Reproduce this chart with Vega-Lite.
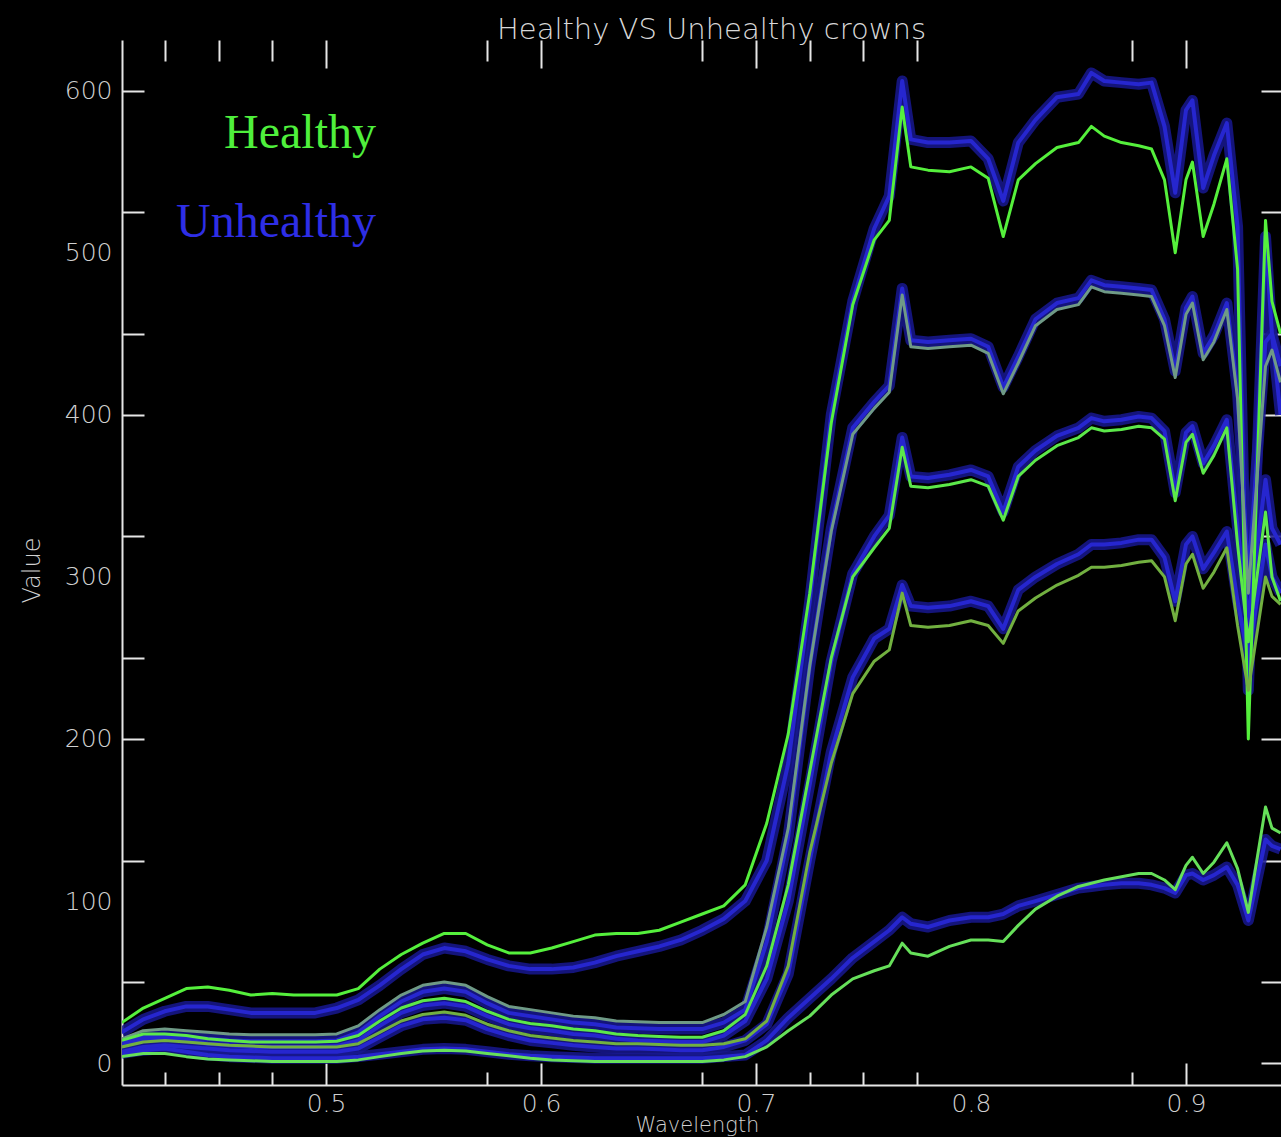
{
  "$schema": "https://vega.github.io/schema/vega-lite/v6.json",
  "autosize": {"type": "none"},
  "padding": {"left": 122, "top": 40, "right": 0, "bottom": 52},
  "width": 1159,
  "height": 1045,
  "background": "black",
  "title": {"text": "Healthy VS Unhealthy crowns", "font": "DejaVu Sans", "fontSize": 29, "fontWeight": 200, "color": "#d8d8d8", "anchor": "middle", "dx": 10, "offset": -6},
  "config": {"view": {"stroke": null}, "axis": {"grid": false}},
  "datasets": {
    "groups": [
      {"series": "H1", "group": "Healthy"}, {"series": "H2", "group": "Healthy"}, {"series": "H3", "group": "Healthy"}, {"series": "H4", "group": "Healthy"}, {"series": "H5", "group": "Healthy"},
      {"series": "U1", "group": "Unhealthy"}, {"series": "U2", "group": "Unhealthy"}, {"series": "U3", "group": "Unhealthy"}, {"series": "U4", "group": "Unhealthy"}, {"series": "U5", "group": "Unhealthy"}
    ],
    "spectra": [
      {"w":0.405,"H1":25,"H2":15,"H3":14,"H4":10,"H5":4,"U1":19,"U2":12,"U3":11,"U4":7,"U5":6},
      {"w":0.415,"H1":34,"H2":20,"H3":18,"H4":13,"H5":6,"U1":27,"U2":16,"U3":15,"U4":10,"U5":8},
      {"w":0.425,"H1":40,"H2":21,"H3":18,"H4":14,"H5":6,"U1":32,"U2":17,"U3":15,"U4":11,"U5":9},
      {"w":0.435,"H1":46,"H2":20,"H3":17,"H4":13,"H5":4,"U1":35,"U2":16,"U3":14,"U4":10,"U5":7},
      {"w":0.445,"H1":47,"H2":19,"H3":15,"H4":12,"H5":2.5,"U1":35,"U2":15,"U3":12,"U4":9,"U5":5},
      {"w":0.455,"H1":45,"H2":18,"H3":14,"H4":11,"H5":2,"U1":33,"U2":14,"U3":11,"U4":8,"U5":4},
      {"w":0.465,"H1":42,"H2":17.5,"H3":13,"H4":10.5,"H5":1.5,"U1":31,"U2":13.5,"U3":10,"U4":7.5,"U5":3.5},
      {"w":0.475,"H1":43,"H2":17.5,"H3":13,"H4":10,"H5":1,"U1":31,"U2":13.5,"U3":10,"U4":7,"U5":3},
      {"w":0.485,"H1":42,"H2":17.5,"H3":13,"H4":10,"H5":1,"U1":31,"U2":13.5,"U3":10,"U4":7,"U5":3},
      {"w":0.495,"H1":42,"H2":17.5,"H3":13,"H4":10,"H5":1,"U1":31,"U2":13.5,"U3":10,"U4":7,"U5":3},
      {"w":0.505,"H1":42,"H2":18,"H3":13.5,"H4":10,"H5":1,"U1":34,"U2":14,"U3":10.5,"U4":7,"U5":3},
      {"w":0.515,"H1":46,"H2":23,"H3":17,"H4":12,"H5":2,"U1":39,"U2":19,"U3":14,"U4":9,"U5":4},
      {"w":0.525,"H1":58,"H2":33,"H3":26,"H4":19,"H5":4,"U1":48,"U2":29,"U3":23,"U4":16,"U5":5.5},
      {"w":0.535,"H1":67,"H2":42,"H3":34,"H4":26,"H5":6,"U1":58,"U2":38,"U3":31,"U4":23,"U5":7},
      {"w":0.545,"H1":74,"H2":48,"H3":38.5,"H4":30,"H5":7.5,"U1":67,"U2":44,"U3":35.5,"U4":27,"U5":8.5},
      {"w":0.555,"H1":80,"H2":50,"H3":40,"H4":31.5,"H5":8,"U1":71,"U2":46,"U3":37,"U4":28,"U5":9},
      {"w":0.565,"H1":80,"H2":48,"H3":38,"H4":29.5,"H5":7.5,"U1":69,"U2":44,"U3":35,"U4":26.5,"U5":8.5},
      {"w":0.575,"H1":73,"H2":41,"H3":32,"H4":24,"H5":6,"U1":64,"U2":37,"U3":29,"U4":21,"U5":7},
      {"w":0.585,"H1":68,"H2":35,"H3":27,"H4":20,"H5":4.5,"U1":60,"U2":31,"U3":24,"U4":17,"U5":5.5},
      {"w":0.595,"H1":68,"H2":33,"H3":24.5,"H4":17,"H5":3,"U1":58,"U2":29,"U3":21.5,"U4":14,"U5":4.5},
      {"w":0.605,"H1":71,"H2":31,"H3":23,"H4":15.5,"H5":2,"U1":58,"U2":27,"U3":20,"U4":12.5,"U5":4},
      {"w":0.615,"H1":75,"H2":29,"H3":21,"H4":14,"H5":1.5,"U1":59,"U2":25,"U3":18,"U4":11,"U5":3.5},
      {"w":0.625,"H1":79,"H2":28,"H3":20,"H4":13,"H5":1,"U1":62,"U2":24,"U3":17,"U4":10,"U5":3},
      {"w":0.635,"H1":80,"H2":26,"H3":18,"H4":12,"H5":1,"U1":66,"U2":22,"U3":15,"U4":9,"U5":3},
      {"w":0.645,"H1":80,"H2":25.5,"H3":17,"H4":12,"H5":1,"U1":69,"U2":21.5,"U3":14,"U4":9,"U5":3},
      {"w":0.655,"H1":82,"H2":25,"H3":16.5,"H4":11.5,"H5":1,"U1":72,"U2":21,"U3":13.5,"U4":8.5,"U5":3},
      {"w":0.665,"H1":87,"H2":25,"H3":16,"H4":11,"H5":1,"U1":76,"U2":21,"U3":13,"U4":8,"U5":3},
      {"w":0.675,"H1":92,"H2":25,"H3":16,"H4":11,"H5":1,"U1":82,"U2":21,"U3":13,"U4":8,"U5":3},
      {"w":0.685,"H1":97,"H2":30,"H3":20,"H4":12,"H5":2,"U1":89,"U2":25,"U3":17,"U4":10,"U5":4},
      {"w":0.695,"H1":110,"H2":38,"H3":30,"H4":15,"H5":4,"U1":100,"U2":33,"U3":26,"U4":14,"U5":5},
      {"w":0.705,"H1":148,"H2":84,"H3":60,"H4":26,"H5":10,"U1":125,"U2":75,"U3":52,"U4":24,"U5":14},
      {"w":0.715,"H1":203,"H2":145,"H3":110,"H4":60,"H5":20,"U1":185,"U2":140,"U3":100,"U4":55,"U5":28},
      {"w":0.725,"H1":290,"H2":245,"H3":180,"H4":130,"H5":29,"U1":285,"U2":245,"U3":172,"U4":125,"U5":40},
      {"w":0.735,"H1":395,"H2":328,"H3":250,"H4":185,"H5":42,"U1":400,"U2":330,"U3":248,"U4":192,"U5":52},
      {"w":0.745,"H1":468,"H2":388,"H3":300,"H4":228,"H5":52,"U1":470,"U2":392,"U3":302,"U4":238,"U5":65},
      {"w":0.755,"H1":508,"H2":404,"H3":318,"H4":248,"H5":57,"U1":515,"U2":408,"U3":325,"U4":262,"U5":75},
      {"w":0.762,"H1":520,"H2":414,"H3":330,"H4":255,"H5":60,"U1":535,"U2":418,"U3":338,"U4":268,"U5":82},
      {"w":0.768,"H1":590,"H2":474,"H3":380,"H4":290,"H5":74,"U1":606,"U2":478,"U3":386,"U4":295,"U5":90},
      {"w":0.772,"H1":553,"H2":442,"H3":356,"H4":270,"H5":68,"U1":570,"U2":446,"U3":362,"U4":282,"U5":86},
      {"w":0.78,"H1":551,"H2":441,"H3":355,"H4":269,"H5":66,"U1":568,"U2":445,"U3":361,"U4":281,"U5":84},
      {"w":0.79,"H1":550,"H2":442,"H3":357,"H4":270,"H5":72,"U1":568,"U2":446,"U3":363,"U4":282,"U5":88},
      {"w":0.8,"H1":553,"H2":443,"H3":360,"H4":273,"H5":76,"U1":569,"U2":447,"U3":366,"U4":285,"U5":90},
      {"w":0.808,"H1":546,"H2":438,"H3":356,"H4":270,"H5":76,"U1":558,"U2":442,"U3":362,"U4":282,"U5":90},
      {"w":0.815,"H1":510,"H2":413,"H3":335,"H4":259,"H5":75,"U1":532,"U2":417,"U3":340,"U4":268,"U5":92},
      {"w":0.822,"H1":545,"H2":432,"H3":362,"H4":279,"H5":85,"U1":568,"U2":436,"U3":368,"U4":292,"U5":97},
      {"w":0.83,"H1":555,"H2":455,"H3":372,"H4":287,"H5":95,"U1":582,"U2":459,"U3":378,"U4":300,"U5":100},
      {"w":0.84,"H1":565,"H2":465,"H3":381,"H4":295,"H5":103,"U1":596,"U2":469,"U3":387,"U4":308,"U5":104},
      {"w":0.85,"H1":568,"H2":468,"H3":386,"H4":301,"H5":109,"U1":598,"U2":472,"U3":392,"U4":314,"U5":108},
      {"w":0.856,"H1":578,"H2":479,"H3":392,"H4":306,"H5":111,"U1":611,"U2":483,"U3":398,"U4":320,"U5":109},
      {"w":0.862,"H1":572,"H2":476,"H3":390,"H4":306,"H5":113,"U1":606,"U2":480,"U3":396,"U4":320,"U5":110},
      {"w":0.87,"H1":568,"H2":475,"H3":391,"H4":307,"H5":115,"U1":605,"U2":479,"U3":397,"U4":321,"U5":111},
      {"w":0.878,"H1":566,"H2":474,"H3":393,"H4":309,"H5":117,"U1":604,"U2":478,"U3":399,"U4":323,"U5":111},
      {"w":0.884,"H1":564,"H2":473,"H3":392,"H4":310,"H5":117,"U1":605,"U2":477,"U3":398,"U4":323,"U5":110},
      {"w":0.89,"H1":545,"H2":455,"H3":385,"H4":300,"H5":113,"U1":578,"U2":459,"U3":390,"U4":312,"U5":108},
      {"w":0.895,"H1":500,"H2":423,"H3":347,"H4":273,"H5":107,"U1":537,"U2":427,"U3":352,"U4":285,"U5":105},
      {"w":0.9,"H1":545,"H2":462,"H3":383,"H4":308,"H5":122,"U1":588,"U2":466,"U3":389,"U4":320,"U5":116},
      {"w":0.903,"H1":556,"H2":469,"H3":388,"H4":314,"H5":127,"U1":594,"U2":473,"U3":393,"U4":325,"U5":117},
      {"w":0.908,"H1":510,"H2":434,"H3":364,"H4":293,"H5":117,"U1":540,"U2":438,"U3":370,"U4":305,"U5":113},
      {"w":0.913,"H1":530,"H2":445,"H3":375,"H4":303,"H5":124,"U1":560,"U2":449,"U3":381,"U4":315,"U5":116},
      {"w":0.919,"H1":558,"H2":465,"H3":392,"H4":318,"H5":136,"U1":580,"U2":469,"U3":397,"U4":328,"U5":121},
      {"w":0.924,"H1":490,"H2":410,"H3":320,"H4":270,"H5":120,"U1":516,"U2":414,"U3":330,"U4":285,"U5":110},
      {"w":0.929,"H1":200,"H2":290,"H3":260,"H4":230,"H5":93,"U1":230,"U2":300,"U3":275,"U4":250,"U5":88},
      {"w":0.937,"H1":520,"H2":430,"H3":340,"H4":300,"H5":158,"U1":510,"U2":445,"U3":360,"U4":320,"U5":138},
      {"w":0.94,"H1":470,"H2":440,"H3":300,"H4":288,"H5":145,"U1":450,"U2":450,"U3":330,"U4":300,"U5":134},
      {"w":0.944,"H1":450,"H2":420,"H3":285,"H4":283,"H5":142,"U1":400,"U2":430,"U3":320,"U4":290,"U5":132}
    ]
  },
  "data": {"name": "spectra"},
  "transform": [
    {"fold": ["H1","H2","H3","H4","H5","U1","U2","U3","U4","U5"], "as": ["series","v"]},
    {"lookup": "series", "from": {"data": {"name": "groups"}, "key": "series", "fields": ["group"]}}
  ],
  "resolve": {"scale": {"color": "independent"}, "axis": {"x": "independent", "y": "independent"}},
  "layer": [
    {
      "transform": [{"filter": {"field": "group", "equal": "Unhealthy"}}],
      "mark": {"type": "line", "color": "#17178f", "strokeWidth": 11, "opacity": 0.85, "strokeJoin": "round", "clip": true},
      "encoding": {
        "x": {"field": "w", "type": "quantitative", "scale": {"domain": [0.4051, 0.9442], "nice": false, "zero": false},
          "axis": {"orient": "bottom", "values": [0.5,0.6,0.7,0.8,0.9], "format": ".1f", "ticks": false, "domain": true, "domainColor": "#e6e6e6", "domainWidth": 2,
            "labelFont": "DejaVu Sans", "labelFontSize": 25, "labelFontWeight": 200, "labelColor": "#d0d0d0", "labelPadding": 6, "labelFlush": false,
            "title": "Wavelength", "titleFont": "DejaVu Sans", "titleFontSize": 21, "titleFontWeight": 200, "titleColor": "#d0d0d0", "titleX": 575, "titleY": 29, "titleBaseline": "top", "titleAlign": "center"}},
        "y": {"field": "v", "type": "quantitative", "scale": {"domain": [-13.5, 631.3], "nice": false, "zero": false},
          "axis": {"orient": "left", "values": [0,100,200,300,400,500,600], "ticks": false, "domain": true, "domainColor": "#e6e6e6", "domainWidth": 2,
            "labelFont": "DejaVu Sans", "labelFontSize": 25, "labelFontWeight": 200, "labelColor": "#d0d0d0", "labelPadding": 10, "labelFlush": false,
            "title": "Value", "titleFont": "DejaVu Sans", "titleFontSize": 24, "titleFontWeight": 200, "titleColor": "#d0d0d0", "titleX": -78, "titleY": 530, "titleAngle": -90, "titleBaseline": "bottom", "titleAlign": "center"}},
        "detail": {"field": "series", "type": "nominal"}
      }
    },
    {
      "transform": [{"filter": {"field": "group", "equal": "Unhealthy"}}],
      "mark": {"type": "line", "color": "#2626cf", "strokeWidth": 4, "strokeJoin": "round", "clip": true},
      "encoding": {
        "x": {"field": "w", "type": "quantitative", "axis": {"orient": "bottom", "values": [0.5,0.6,0.7,0.9], "labels": false, "domain": false, "ticks": true, "tickSize": -22, "tickWidth": 2, "tickColor": "#e6e6e6", "title": null}},
        "y": {"field": "v", "type": "quantitative", "axis": {"orient": "left", "values": [50,125,200,250,325,400,450,525,600], "labels": false, "domain": false, "ticks": true, "tickSize": -22, "tickWidth": 2, "tickColor": "#e6e6e6", "title": null}},
        "detail": {"field": "series", "type": "nominal"}
      }
    },
    {
      "transform": [{"filter": {"field": "group", "equal": "Healthy"}}],
      "mark": {"type": "line", "strokeWidth": 3, "strokeJoin": "round", "clip": true},
      "encoding": {
        "x": {"field": "w", "type": "quantitative", "axis": {"orient": "bottom", "values": [0.425,0.45,0.475,0.575,0.675,0.725,0.75,0.775,0.875], "labels": false, "domain": false, "ticks": true, "tickSize": -13, "tickWidth": 2, "tickColor": "#e6e6e6", "title": null}},
        "y": {"field": "v", "type": "quantitative", "axis": {"orient": "right", "values": [0,50,125,200,250,325,400,450,525,600], "labels": false, "domain": false, "ticks": true, "tickSize": -20, "tickWidth": 2, "tickColor": "#e6e6e6", "title": null}},
        "color": {"field": "series", "type": "nominal", "scale": {"domain": ["H1","H2","H3","H4","H5"], "range": ["#55f03c", "#6f9a86", "#5ce84a", "#72b040", "#66e05a"]}, "legend": null},
        "detail": {"field": "series", "type": "nominal"}
      }
    },
    {
      "mark": {"type": "line", "strokeOpacity": 0, "clip": true},
      "encoding": {
        "x": {"field": "w", "type": "quantitative", "axis": {"orient": "top", "values": [0.5,0.6,0.7,0.9], "labels": false, "domain": false, "ticks": true, "tickSize": -28, "tickWidth": 2, "tickColor": "#e6e6e6", "title": null}},
        "y": {"field": "v", "type": "quantitative", "axis": null},
        "color": {"field": "group", "type": "nominal", "scale": {"domain": ["Healthy","Unhealthy"], "range": ["#4ff03c", "#2e2ee6"]},
          "legend": {"orient": "none", "legendX": 206, "legendY": 70, "title": null, "padding": 0, "symbolSize": 0, "symbolOpacity": 0, "symbolStrokeWidth": 0, "labelOffset": 0,
            "labelFont": "Liberation Serif", "labelFontSize": 48, "labelAlign": "right", "labelBaseline": "middle", "labelLimit": 500, "rowPadding": 41,
            "labelColor": {"expr": "datum.label == 'Healthy' ? '#4ff03c' : '#2e2ee6'"}}},
        "detail": {"field": "series", "type": "nominal"}
      }
    },
    {
      "mark": {"type": "line", "strokeOpacity": 0, "clip": true},
      "encoding": {
        "x": {"field": "w", "type": "quantitative", "axis": {"orient": "top", "values": [0.425,0.45,0.475,0.575,0.675,0.725,0.75,0.775,0.875], "labels": false, "domain": false, "ticks": true, "tickSize": -21, "tickWidth": 2, "tickColor": "#e6e6e6", "title": null}},
        "y": {"field": "v", "type": "quantitative", "axis": null},
        "detail": {"field": "series", "type": "nominal"}
      }
    }
  ]
}
